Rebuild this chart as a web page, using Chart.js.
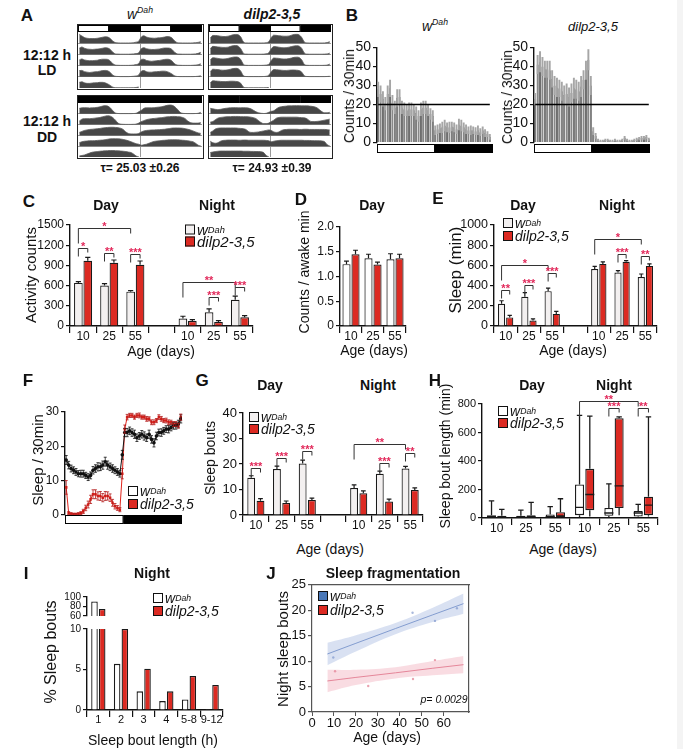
<!DOCTYPE html>
<html><head><meta charset="utf-8">
<script src="https://cdn.jsdelivr.net/npm/chart.js@4.4.1/dist/chart.umd.min.js"></script>
<style>
html,body{margin:0;padding:0;background:#fff}
body{position:relative;width:683px;height:749px;overflow:hidden;font-family:'Liberation Sans',Arial,Helvetica,sans-serif;color:#111}
.t{position:absolute;white-space:nowrap;line-height:1}
.sq{display:inline-block;width:8px;height:8px;border:1.3px solid #111;margin-right:2px;flex:none}
.lg{position:absolute;display:flex;align-items:center;white-space:nowrap;line-height:1;font-style:italic;transform:translateY(-50%)}
sup{font-size:0.62em;vertical-align:super;line-height:0}
</style></head><body>
<div style="position:absolute;left:677px;top:0;width:6px;height:749px;background:#f4f4f4"></div>
<script>
// ================= DATA =================
const ldPhaseHours = 12;
const ldDay = [1, 0];              // light, dark (12 h each)
const actoLDbar = [1, 0, 1, 0];    // double-plotted LD
const actoDDbar = [0, 0, 0, 0];    // constant darkness

// Panel A: hourly activity profiles (fraction of row height), one array per day
const actoLD_wDah = [
 [0.85,0.7,0.55,0.48,0.45,0.45,0.45,0.48,0.52,0.58,0.62,0.6,0.45,0.2,0.06,0.03,0.02,0.02,0.02,0.02,0.03,0.05,0.1,0.2],
 [0.6,0.72,0.6,0.52,0.5,0.48,0.5,0.52,0.55,0.6,0.65,0.62,0.48,0.2,0.05,0.03,0.02,0.02,0.02,0.02,0.03,0.05,0.08,0.15],
 [0.55,0.65,0.55,0.5,0.48,0.48,0.5,0.52,0.58,0.62,0.62,0.6,0.45,0.18,0.05,0.03,0.02,0.02,0.02,0.02,0.03,0.05,0.1,0.2],
 [0.6,0.62,0.5,0.45,0.42,0.45,0.48,0.5,0.55,0.6,0.62,0.58,0.42,0.15,0.05,0.03,0.02,0.02,0.02,0.02,0.03,0.05,0.08,0.18],
 [0.55,0.6,0.5,0.45,0.45,0.48,0.5,0.52,0.55,0.55,0.5,0.4,0.25,0.08,0.03,0.02,0.02,0.02,0.02,0.02,0.02,0.03,0.05,0.1]
];
const actoLD_dilp = [
 [0.5,0.75,0.75,0.72,0.68,0.65,0.65,0.68,0.75,0.82,0.85,0.82,0.6,0.15,0.03,0.02,0.02,0.02,0.02,0.02,0.02,0.03,0.05,0.15],
 [0.55,0.78,0.76,0.72,0.7,0.68,0.68,0.7,0.78,0.85,0.86,0.8,0.55,0.12,0.03,0.02,0.02,0.02,0.02,0.02,0.02,0.03,0.06,0.15],
 [0.55,0.76,0.74,0.7,0.66,0.64,0.66,0.7,0.76,0.82,0.84,0.8,0.58,0.14,0.03,0.02,0.02,0.02,0.02,0.02,0.02,0.03,0.05,0.12],
 [0.5,0.74,0.72,0.7,0.66,0.64,0.65,0.68,0.74,0.8,0.82,0.78,0.55,0.12,0.03,0.02,0.02,0.02,0.02,0.02,0.02,0.03,0.05,0.15],
 [0.5,0.7,0.68,0.66,0.64,0.62,0.62,0.64,0.66,0.66,0.64,0.6,0.45,0.1,0.03,0.02,0.02,0.02,0.02,0.02,0.02,0.02,0.03,0.05]
];
const actoDD_wDah = [
 [0.55,0.6,0.62,0.6,0.58,0.6,0.62,0.65,0.7,0.78,0.82,0.78,0.6,0.3,0.08,0.03,0.02,0.02,0.02,0.02,0.02,0.03,0.05,0.2],
 [0.35,0.55,0.6,0.6,0.6,0.62,0.65,0.68,0.72,0.78,0.85,0.88,0.85,0.7,0.45,0.15,0.05,0.03,0.02,0.02,0.02,0.03,0.05,0.15],
 [0.3,0.4,0.5,0.55,0.6,0.62,0.65,0.68,0.7,0.75,0.78,0.8,0.82,0.82,0.8,0.78,0.72,0.6,0.35,0.2,0.15,0.15,0.15,0.2],
 [0.35,0.45,0.5,0.52,0.55,0.55,0.56,0.58,0.6,0.62,0.66,0.7,0.74,0.75,0.75,0.74,0.72,0.68,0.62,0.55,0.45,0.35,0.25,0.2],
 [0.1,0.15,0.2,0.3,0.4,0.48,0.52,0.55,0.58,0.6,0.62,0.64,0.65,0.65,0.64,0.62,0.6,0.58,0.55,0.5,0.45,0.3,0.1,0.03]
];
const actoDD_dilp = [
 [0.55,0.5,0.45,0.42,0.45,0.5,0.55,0.58,0.6,0.62,0.62,0.6,0.6,0.62,0.6,0.58,0.5,0.35,0.2,0.1,0.05,0.03,0.05,0.15],
 [0.25,0.3,0.5,0.65,0.72,0.75,0.78,0.8,0.8,0.82,0.82,0.82,0.8,0.8,0.8,0.78,0.75,0.7,0.6,0.4,0.2,0.1,0.1,0.15],
 [0.3,0.45,0.65,0.72,0.75,0.75,0.75,0.75,0.75,0.75,0.75,0.72,0.7,0.68,0.6,0.4,0.3,0.3,0.32,0.35,0.4,0.45,0.5,0.55],
 [0.5,0.35,0.3,0.35,0.5,0.58,0.6,0.62,0.62,0.62,0.62,0.6,0.6,0.62,0.62,0.6,0.6,0.6,0.6,0.6,0.6,0.6,0.58,0.55],
 [0.45,0.5,0.55,0.58,0.6,0.6,0.6,0.6,0.6,0.6,0.6,0.6,0.6,0.58,0.58,0.58,0.56,0.56,0.55,0.55,0.52,0.45,0.15,0.03]
];
const tauWDah = 'τ= 25.03 ±0.26';
const tauDilp = 'τ= 24.93 ±0.39';

// Panel B: counts / 30 min (48 bins: 24 light + 24 dark)
const bMean_wDah = [28,25.5,23,20.5,25.5,28.5,21,18.5,23.5,24,18.5,17.5,17,17.5,17.5,17,15.5,14,17.5,18.5,18.5,17,15,14,
                    6.5,7,7.5,8,9,8,8,8.5,8,7,9.5,9,8,7,6.5,6.5,6.5,6,6.5,5.5,6.5,5,4.5,3];
const bSem_wDah  = [4,4.5,4,3.5,4.5,4.5,4,3.5,4.5,4,3.5,3.5,3,3.5,3.5,3,3.5,3,3.5,3.5,3.5,3,3,3,
                    2.5,2.5,2.5,3,3,2.5,3,2.5,2.5,2.5,3,3,2.5,2.5,2,2.5,2,2,2.5,2,2,2,1.5,1.5];
const bMean_dilp = [23,41,42.5,40,38.5,38.5,38,33.5,30,29,28.5,27,25,25.5,24,26,28.5,28,27,29.5,33,38,43.5,30,
                    6,3.5,1.2,0.9,0.9,1.3,1.3,0.9,0.9,1.3,0.9,0.9,1.3,2.5,1.3,0.9,0.9,1.3,1.7,2.1,2.5,2.5,2.9,1.7];
const bSem_dilp  = [3,5,5.5,5,4.5,4.5,5,4.5,5,5,4.5,5,5,5.5,5,5,5.5,5,5,5.5,5,5,5.5,5,
                    2,1.5,0.8,0.6,0.6,0.7,0.7,0.6,0.6,0.7,0.6,0.6,0.7,1,0.7,0.6,0.6,0.7,0.8,0.9,1,1,1.1,0.8];
const bThreshold = 20;

// Panels C, D, E, G: age groups
const gapAges = ['10','25','55','','10','25','55'];
const dAges = ['10','25','55'];
const cDayW = [640,600,510],  cDayWErr = [18,30,15],  cDayD = [970,940,910], cDayDErr = [50,40,55];
const cNightW = [110,205,390], cNightWErr = [35,50,55], cNightD = [75,60,130], cNightDErr = [20,20,25];
// significance: [datasetA, indexA, datasetB, indexB, level, label]
const cSig = [[0,0,0,2,1450,'*'],[0,0,1,0,1160,'*'],[0,1,1,1,1090,'**'],[0,2,1,2,1070,'***'],
              [0,4,0,6,656,'**'],[0,5,1,5,432,'***'],[0,6,1,6,581,'***']];

const dW = [1.25,1.37,1.35], dWErr = [0.06,0.08,0.11], dD = [1.45,1.24,1.37], dDErr = [0.08,0.05,0.08];

const eDayW = [220,290,345], eDayWErr = [30,40,30], eDayD = [85,55,120], eDayDErr = [20,15,25];
const eNightW = [565,530,485], eNightWErr = [25,18,30], eNightD = [615,635,595], eNightDErr = [20,12,20];
const eSig = [[0,0,0,2,604,'*'],[0,0,1,0,360,'**'],[0,1,1,1,405,'***'],[0,2,1,2,527,'***'],
              [0,4,0,6,863,'*'],[0,5,1,5,714,'***'],[0,6,1,6,697,'**']];

// Panel F: sleep / 30 min (48 bins)
const fW = [16,14.5,13.5,13,12.5,12,12,12,11.5,11,11.5,13,13.5,14,14,14.5,15.5,14.5,14,13.5,13,12.5,12,17.5,
            24,24,24.5,24,23.5,22.5,23,23.5,23,22.5,23.5,22,21,23,24,24,24.5,25,25,25.5,26,26,26.5,28];
const fWErr = [1.3,1.1,1,1,1,0.9,1,1,0.9,1,1,1.1,1.1,1.2,1.1,1.2,1.3,1.2,1.1,1.1,1,1,1,1.3,
               1.2,1.2,1.1,1.1,1.2,1.1,1,1.1,1.2,1.1,1.2,1.1,1.2,1.1,1,1.1,1,1,1.1,1,1,1,1.1,1.2];
const fD = [8,0.5,0.3,0.2,0.2,0.3,0.5,1,2,3,4.5,6,6,5.5,5.5,5,5.5,5.5,5,3.5,2.5,2,1.5,12,
            25,28.5,29,29,28.5,29,29,28.5,28.5,28,28,27,27,27.5,28.5,28,27.5,27.5,27,27,26.5,26.5,26,28.5];
const fDErr = [2,0.4,0.3,0.2,0.2,0.3,0.4,0.6,0.8,1,1.2,1.3,1.3,1.2,1.3,1.2,1.3,1.2,1.1,1,0.8,0.7,0.6,1.5,
               1.2,0.8,0.6,0.6,0.6,0.6,0.7,0.6,0.6,0.7,0.6,0.7,0.7,0.6,0.7,0.7,0.6,0.7,0.7,0.6,0.7,0.7,0.7,0.9];

const gDayW = [14.6,18,20.2], gDayWErr = [0.8,1.2,1.3], gDayD = [5.6,4.7,5.9], gDayDErr = [0.8,0.8,0.7];
const gNightW = [10.6,16.2,18.2], gNightWErr = [1.2,1,0.9], gNightD = [8.5,5.3,9.8], gNightDErr = [1,0.9,0.8];
const gSig = [[0,0,1,0,18.4,'***'],[0,1,1,1,22.3,'***'],[0,2,1,2,25,'***'],
              [0,4,0,6,27.7,'**'],[0,5,1,5,20.5,'***'],[0,6,1,6,24.4,'**']];

// Panel H: box plots [min, q1, median, q3, max]
const hAges = ['10','25','55','10','25','55'];
const hBoxW = [[0,2,8,20,120],[0,2,8,15,55],[0,3,10,25,80],[5,20,75,235,720],[5,15,35,70,240],[5,10,35,50,95]];
const hBoxD = [[0,2,6,15,60],[0,2,8,20,110],[0,5,15,40,135],[10,55,165,345,715],[20,70,225,700,710],[10,20,90,150,710]];
const hSig = [[0,3,0,5,820,'**'],[0,4,1,4,770,'***'],[0,5,1,5,770,'**']];

// Panel I
const iBins = ['1','2','3','4','5-8','9-12'];
const iW = [90.6,5.7,2.3,1.1,1.3,0.1];
const iD = [75,10,5.1,2.3,4.2,3.1];

// Panel J
const jX = [7,20,38,55,69];
const jFitW = [11.4,13.5,16.4,19.1,21.3], jHiW = [13.6,15.1,17.5,20.5,23.3], jLoW = [9.2,11.9,15.3,17.7,19.3];
const jFitD = [6.1,6.8,7.7,8.6,9.3],      jHiD = [8.3,8.3,8.8,10.0,11.0],   jLoD = [3.9,5.3,6.6,7.2,7.6];
const jPtsW = [[9.7,10.7],[45.8,19.5],[56,17.9],[66,20.4]];
const jPtsD = [[10.5,8.0],[25.6,5.1],[46,6.5],[56,10.2]];
const jP = 'p= 0.0029';

// ================= STYLE / HELPERS =================
const STAR = '#e2285a', EDGE = '#1a1a1a', WFILL = '#f3f0f0', RFILL = '#dc2a22';
Chart.defaults.font.family = "'Liberation Sans', Arial, sans-serif";
Chart.defaults.color = '#111';
Chart.defaults.animation = false;
Chart.defaults.events = [];
Chart.defaults.plugins.legend.display = false;
Chart.defaults.plugins.tooltip.enabled = false;

const errPlugin = {id:'errbars', afterDatasetsDraw(chart){
  const ctx = chart.ctx;
  chart.data.datasets.forEach((ds,di)=>{
    if(!ds.err) return;
    const meta = chart.getDatasetMeta(di), ys = chart.scales[meta.yAxisID];
    ctx.save(); ctx.strokeStyle = ds.errColor || EDGE; ctx.lineWidth = ds.errWidth || 1.2;
    meta.data.forEach((el,i)=>{
      const raw = ds.data[i], e = ds.err[i];
      if(raw==null || e==null) return;
      const v = typeof raw==='object' ? raw.y : raw;
      const x = el.x, cw = ds.errCap!=null ? ds.errCap : el.width*0.3;
      const yHi = ys.getPixelForValue(v+e), yLo = ys.getPixelForValue(ds.errBoth ? v-e : v);
      ctx.beginPath(); ctx.moveTo(x,yLo); ctx.lineTo(x,yHi); ctx.moveTo(x-cw,yHi); ctx.lineTo(x+cw,yHi);
      if(ds.errBoth){ ctx.moveTo(x-cw,yLo); ctx.lineTo(x+cw,yLo); }
      ctx.stroke();
    });
    ctx.restore();
  });
}};
const boxPlugin = {id:'whiskers', afterDatasetsDraw(chart){
  const ctx = chart.ctx;
  chart.data.datasets.forEach((ds,di)=>{
    if(!ds.whisk) return;
    const meta = chart.getDatasetMeta(di), ys = chart.scales[meta.yAxisID];
    const p = v => ys.getPixelForValue(v);
    ctx.save(); ctx.strokeStyle = EDGE; ctx.lineWidth = 1.3;
    meta.data.forEach((el,i)=>{
      const [mn,q1,md,q3,mx] = ds.whisk[i]; const x = el.x, hw = el.width/2, cw = el.width*0.3;
      ctx.beginPath();
      ctx.moveTo(x,p(q3)); ctx.lineTo(x,p(mx)); ctx.moveTo(x-cw,p(mx)); ctx.lineTo(x+cw,p(mx));
      ctx.moveTo(x,p(q1)); ctx.lineTo(x,p(mn));
      ctx.moveTo(x-hw,p(md)); ctx.lineTo(x+hw,p(md));
      ctx.stroke();
    });
    ctx.restore();
  });
}};
const sigPlugin = {id:'sig', afterDatasetsDraw(chart){
  const ds0 = chart.data.datasets[0]; if(!ds0 || !ds0.sig) return;
  const ctx = chart.ctx, ys = chart.scales.y;
  ctx.save();
  ds0.sig.forEach(([d1,i1,d2,i2,lvl,lab])=>{
    const x1 = chart.getDatasetMeta(d1).data[i1].x, x2 = chart.getDatasetMeta(d2).data[i2].x;
    const y = Math.round(ys.getPixelForValue(lvl))+0.5;
    const small = i1===i2, l1 = small?8:15, l2 = small?4:5;
    ctx.strokeStyle = '#333'; ctx.lineWidth = 1;
    ctx.beginPath(); ctx.moveTo(x1,y+l1); ctx.lineTo(x1,y); ctx.lineTo(x2,y); ctx.lineTo(x2,y+l2); ctx.stroke();
    ctx.fillStyle = STAR; ctx.font = "bold 11px 'Liberation Sans', Arial"; ctx.textAlign = 'center'; ctx.textBaseline = 'alphabetic';
    ctx.fillText(lab,(x1+x2)/2,y+1);
  });
  ctx.restore();
}};
Chart.register(errPlugin, boxPlugin, sigPlugin);

function place(x,y,w,h,parent){
  const wrap = document.createElement('div');
  wrap.style.cssText = `position:absolute;left:${x}px;top:${y}px;width:${w}px;height:${h}px`;
  const cv = document.createElement('canvas'); cv.width = w; cv.height = h;
  cv.style.width = w+'px'; cv.style.height = h+'px';
  wrap.appendChild(cv); (parent||document.body).appendChild(wrap); return cv;
}
function plotChart(P,pad,cfg){
  const x = P[0]-pad.l, y = P[1]-pad.t, w = P[2]-P[0]+pad.l+pad.r, h = P[3]-P[1]+pad.t+pad.b;
  const cv = place(x,y,w,h);
  const o = cfg.options = Object.assign({responsive:false, maintainAspectRatio:false, animation:false}, cfg.options||{});
  o.layout = {padding:{left:0, top:pad.t, right:pad.r, bottom:0}};
  for(const [id,s] of Object.entries(o.scales)){
    const isX = id[0]==='x';
    if(s.display===false){ if(isX) o.layout.padding.bottom = pad.b; continue; }
    const size = isX ? (s.position==='top'?0:pad.b) : (s.position==='right'?0:pad.l);
    s.afterFit = sc => { if(isX) sc.height = size; else sc.width = size; };
  }
  return new Chart(cv,cfg);
}
function yAx(min,max,step,size,fmt){
  return {type:'linear',position:'left',min,max,
    ticks:{stepSize:step,font:{size},color:'#111',padding:2,autoSkip:false,maxTicksLimit:50, callback: fmt || (v=>String(v))},
    grid:{drawOnChartArea:false,tickLength:4,color:'#111',lineWidth:1.2},
    border:{color:'#111',width:1.4}};
}
function xCat(labels,size){
  return {type:'category',labels,offset:true,
    ticks:{font:{size},color:'#111',maxRotation:0,minRotation:0,autoSkip:false,padding:-4},
    grid:{offset:true,drawOnChartArea:false,tickLength:7,color:'#111',lineWidth:1.2},
    border:{color:'#111',width:1.4}};
}
const gap = (a,b)=>[...a,null,...b];
function barDS(data,err,fill,cp,bp,extra){
  return Object.assign({data,err,backgroundColor:fill,borderColor:EDGE,borderWidth:1.2,categoryPercentage:cp,barPercentage:bp},extra||{});
}
function ldBar(parent,x,y,w,h,light){
  const cv = place(x,y,w,h,parent);
  new Chart(cv,{type:'bar',data:{labels:[''],datasets:light.map(f=>({data:[ldPhaseHours],backgroundColor:f?'#fff':'#000',borderColor:'#000',borderWidth:1.3,borderSkipped:false,barPercentage:1,categoryPercentage:1}))},
    options:{indexAxis:'y',responsive:false,animation:false,layout:{padding:0},
      scales:{x:{stacked:true,display:false,min:0,max:ldPhaseHours*light.length},y:{stacked:true,display:false}}}});
}
function actogram(L,T,R,B,days,light){
  const box = document.createElement('div');
  box.style.cssText = `position:absolute;left:${L}px;top:${T}px;width:${R-L}px;height:${B-T}px;border:1.5px solid #222;box-sizing:border-box;background:#fff`;
  document.body.appendChild(box);
  const iw = R-L-3, ih = B-T-3, barH = 7;
  ldBar(box,0,0,iw,barH,light);
  const cv = place(0,barH,iw,ih-barH,box);
  const rows = days.length;
  const datasets = days.map((d,r)=>{
    const seq = r+1<rows ? d.concat(days[r+1]) : d;
    const base = rows-1-r;
    return {data:seq.map((v,k)=>({x:k+0.5,y:base+v*0.92})),fill:{value:base},backgroundColor:'#474747',
      borderColor:'#5c5c5c',borderWidth:0.8,pointRadius:0,cubicInterpolationMode:'monotone'};
  });
  new Chart(cv,{type:'line',data:{datasets},options:{responsive:false,animation:false,layout:{padding:0},
    scales:{
      x:{type:'linear',min:0,max:48,ticks:{display:false},grid:{color:'#9a9a9a',drawTicks:false,lineWidth:1},border:{display:false},
         afterBuildTicks:s=>{s.ticks=[{value:24}];}},
      y:{type:'linear',min:0,max:rows,ticks:{display:false},grid:{color:'#9a9a9a',drawTicks:false,lineWidth:1},border:{display:false},
         afterBuildTicks:s=>{s.ticks=days.slice(1).map((_,i)=>({value:i+1}));}}
    }}});
}
function T(html,x,y,size,o){
  o = o||{};
  const d = document.createElement('div'); d.className = 't'; d.innerHTML = html;
  d.style.left = x+'px'; d.style.top = y+'px'; d.style.fontSize = size+'px';
  if(o.b) d.style.fontWeight = 'bold'; if(o.i) d.style.fontStyle = 'italic';
  d.style.transform = 'translate(-50%,-50%)'+(o.r?' rotate(-90deg)':'');
  document.body.appendChild(d);
}
const W_LAB = 'w<sup>Dah</sup>', D_LAB = 'dilp2-3,5';
function LG(x,y,size,gapY,items){
  items.forEach((it,k)=>{
    const d = document.createElement('div'); d.className = 'lg';
    d.style.left = x+'px'; d.style.top = (y+k*gapY)+'px'; d.style.fontSize = size+'px';
    d.innerHTML = `<span class="sq" style="background:${it[0]}"></span>${it[1]}`;
    document.body.appendChild(d);
  });
}
const LEG2 = [[WFILL,W_LAB],[RFILL,D_LAB]];

// ================= PANEL A =================
actogram(77,24,204,90,actoLD_wDah,actoLDbar);
actogram(208,24,333,90,actoLD_dilp,actoLDbar);
actogram(77,95,204,159,actoDD_wDah,actoDDbar);
actogram(208,95,333,159,actoDD_dilp,actoDDbar);

// ================= PANEL B =================
function bChart(P,mean,sem){
  const labels = mean.map((_,i)=>String(i));
  return plotChart(P,{l:30,t:10,r:2,b:9},{type:'bar',data:{labels,datasets:[
    {type:'line',xAxisID:'xl',data:[{x:0,y:bThreshold},{x:labels.length-1,y:bThreshold}],borderColor:'#000',borderWidth:1.5,pointRadius:0},
    {data:mean.map((m,i)=>[m-sem[i],m+sem[i]]),backgroundColor:'#a6a6a6',borderWidth:0,grouped:false,categoryPercentage:1,barPercentage:0.8},
    {data:mean,backgroundColor:'#747474',borderColor:'#000',borderWidth:0.6,grouped:false,categoryPercentage:1,barPercentage:0.8}
  ]},options:{scales:{x:{type:'category',display:false,offset:true},
    xl:{type:'linear',display:false,offset:false,grid:{offset:false},min:-0.5,max:labels.length-0.5},y:yAx(0,50,10,14)}}});
}
bChart([377,47,491,144],bMean_wDah,bSem_wDah);
bChart([534,47,650,144],bMean_dilp,bSem_dilp);
ldBar(null,377,144,116,9,ldDay);
ldBar(null,534,144,116,9,ldDay);

// ================= PANEL C =================
plotChart([70,225,253,326],{l:44,t:14,r:4,b:18},{type:'bar',data:{labels:gapAges,datasets:[
  barDS(gap(cDayW,cNightW),gap(cDayWErr,cNightWErr),WFILL,0.72,0.92,{sig:cSig}),
  barDS(gap(cDayD,cNightD),gap(cDayDErr,cNightDErr),RFILL,0.72,0.92)]},
  options:{scales:{x:xCat(gapAges,12),y:yAx(0,1500,300,12)}}});

// ================= PANEL D =================
plotChart([340,227,406,326],{l:30,t:10,r:4,b:18},{type:'bar',data:{labels:dAges,datasets:[
  barDS(dW,dWErr,'#fff',0.82,0.9),barDS(dD,dDErr,RFILL,0.82,0.9)]},
  options:{scales:{x:xCat(dAges,12),y:yAx(0,2,0.5,12,v=>v===0?'0':v.toFixed(1))}}});

// ================= PANEL E =================
plotChart([494,225,657,326],{l:38,t:12,r:4,b:18},{type:'bar',data:{labels:gapAges,datasets:[
  barDS(gap(eDayW,eNightW),gap(eDayWErr,eNightWErr),WFILL,0.7,0.88,{sig:eSig}),
  barDS(gap(eDayD,eNightD),gap(eDayDErr,eNightDErr),RFILL,0.7,0.88)]},
  options:{scales:{x:xCat(gapAges,12),y:yAx(0,1000,200,12.5)}}});

// ================= PANEL F =================
plotChart([65,412,182,515],{l:24,t:10,r:4,b:9},{type:'line',data:{datasets:[
  {data:fW.map((v,k)=>({x:k+0.5,y:v})),err:fWErr,errBoth:true,errCap:1.5,errColor:'#111',errWidth:0.8,
   borderColor:'#111',borderWidth:1,pointRadius:1.8,pointBackgroundColor:'#111',pointBorderWidth:0},
  {data:fD.map((v,k)=>({x:k+0.5,y:v})),err:fDErr,errBoth:true,errCap:1.5,errColor:'#b31a1a',errWidth:0.8,
   borderColor:'#e0241c',borderWidth:1,pointStyle:'rect',pointRadius:1.8,pointBackgroundColor:'#e0241c',pointBorderWidth:0}
]},options:{scales:{x:{type:'linear',display:false,min:0,max:48},y:yAx(0,30,10,12)}}});
ldBar(null,65,515,117,9,ldDay);

// ================= PANEL G =================
plotChart([243,413,423,515],{l:26,t:10,r:4,b:18},{type:'bar',data:{labels:gapAges,datasets:[
  barDS(gap(gDayW,gNightW),gap(gDayWErr,gNightWErr),WFILL,0.72,0.85,{sig:gSig}),
  barDS(gap(gDayD,gNightD),gap(gDayDErr,gNightDErr),RFILL,0.72,0.85)]},
  options:{scales:{x:xCat(gapAges,12),y:yAx(0,40,10,13)}}});

// ================= PANEL H =================
plotChart([482,404,658,518],{l:30,t:14,r:4,b:18},{type:'bar',data:{labels:hAges,datasets:[
  {data:hBoxW.map(b=>[b[1],b[3]]),whisk:hBoxW,sig:hSig,backgroundColor:'#fff',borderColor:EDGE,borderWidth:1.3,borderSkipped:false,categoryPercentage:0.7,barPercentage:0.88},
  {data:hBoxD.map(b=>[b[1],b[3]]),whisk:hBoxD,backgroundColor:RFILL,borderColor:EDGE,borderWidth:1.3,borderSkipped:false,categoryPercentage:0.7,barPercentage:0.88}]},
  options:{scales:{x:xCat(hAges,12),y:yAx(0,800,200,11)}}});

// ================= PANEL I =================
plotChart([87,597,223,617],{l:26,t:8,r:4,b:7},{type:'bar',data:{labels:iBins,datasets:[
  {data:iW.map(v=>v>=60?v:null),backgroundColor:'#fff',borderColor:EDGE,borderWidth:1.3,categoryPercentage:0.68,barPercentage:0.85},
  {data:iD.map(v=>v>=60?v:null),backgroundColor:RFILL,borderColor:EDGE,borderWidth:1.3,categoryPercentage:0.68,barPercentage:0.85}]},
  options:{scales:{x:{type:'category',display:false,offset:true},y:yAx(60,100,20,10)}}});
plotChart([87,628,223,710],{l:26,t:7,r:4,b:18},{type:'bar',data:{labels:iBins,datasets:[
  {data:iW,clip:0,backgroundColor:'#fff',borderColor:EDGE,borderWidth:1.3,categoryPercentage:0.68,barPercentage:0.85},
  {data:iD,clip:0,backgroundColor:RFILL,borderColor:EDGE,borderWidth:1.3,categoryPercentage:0.68,barPercentage:0.85}]},
  options:{scales:{x:xCat(iBins,11),y:yAx(0,10,5,10)}}});

// ================= PANEL J =================
const jy = yAx(0,25,5,13); jy.grid.color = '#555'; jy.border.color = '#555'; jy.border.width = 1.2;
plotChart([312,583,469,712],{l:24,t:8,r:4,b:18},{type:'line',data:{datasets:[
  {data:jX.map((x,i)=>({x,y:jLoW[i]})),borderWidth:0,pointRadius:0,tension:0.4,fill:false},
  {data:jX.map((x,i)=>({x,y:jHiW[i]})),borderWidth:0,pointRadius:0,tension:0.4,fill:'-1',backgroundColor:'rgba(120,148,210,0.28)'},
  {data:jX.map((x,i)=>({x,y:jFitW[i]})),borderColor:'#7b95c9',borderWidth:0.9,pointRadius:0},
  {data:jPtsW.map(([x,y])=>({x,y})),showLine:false,pointRadius:1.2,pointBackgroundColor:'#a8b8dc',pointBorderWidth:0},
  {data:jX.map((x,i)=>({x,y:jLoD[i]})),borderWidth:0,pointRadius:0,tension:0.4,fill:false},
  {data:jX.map((x,i)=>({x,y:jHiD[i]})),borderWidth:0,pointRadius:0,tension:0.4,fill:'-1',backgroundColor:'rgba(235,130,150,0.28)'},
  {data:jX.map((x,i)=>({x,y:jFitD[i]})),borderColor:'#e07a8e',borderWidth:0.9,pointRadius:0},
  {data:jPtsD.map(([x,y])=>({x,y})),showLine:false,pointRadius:1.2,pointBackgroundColor:'#eaa3b0',pointBorderWidth:0}
]},options:{scales:{
  x:{type:'linear',min:0,max:71.5,ticks:{stepSize:10,font:{size:13},color:'#111',padding:0,maxRotation:0},
     afterBuildTicks:s=>{s.ticks=s.ticks.filter(t=>t.value%10===0);},
     grid:{drawOnChartArea:false,tickLength:4,color:'#555'},border:{color:'#555',width:1.2}},
  y:jy,
  x2:{type:'linear',position:'top',min:0,max:71.5,ticks:{display:false},grid:{drawOnChartArea:false,drawTicks:false},border:{color:'#555',width:1.2}},
  y2:{type:'linear',position:'right',min:0,max:25,ticks:{display:false},grid:{drawOnChartArea:false,drawTicks:false},border:{color:'#555',width:1.2}}
}}});

// ================= TEXT =================
// A
T('A',27,15,17,{b:1});
T('<i>w<sup>Dah</sup></i>',140,14,14);
T('<b><i>dilp2-3,5</i></b>',272,14,14);
T('12:12 h',47,55,14,{b:1}); T('LD',47,70,14,{b:1});
T('12:12 h',47,121,14,{b:1}); T('DD',47,137,14,{b:1});
T(tauWDah,140,168,12,{b:1}); T(tauDilp,272,168,12,{b:1});
// B
T('B',352,15,17,{b:1});
T('<i>w<sup>Dah</sup></i>',435,26,14);
T('<i>dilp2-3,5</i>',593,26,13);
T('Counts / 30min',349,96,14,{r:1});
T('Counts / 30min',507,97,14,{r:1});
// C
T('C',29,201,17,{b:1});
T('Day',106,205,14,{b:1}); T('Night',217,205,14,{b:1});
LG(185,229,15,12,LEG2);
T('Activity counts',30,275,15,{r:1});
T('Age (days)',161,351,14);
// D
T('D',301,199,17,{b:1});
T('Day',372,205,14,{b:1});
T('Counts / awake min',304,272,14,{r:1});
T('Age (days)',374,350,14);
// E
T('E',438,198,17,{b:1});
T('Day',523,205,14,{b:1}); T('Night',617,205,14,{b:1});
LG(503,223,14,13,LEG2);
T('Sleep (min)',455,270,17,{r:1});
T('Age (days)',573,350,14);
// F
T('F',28,380,17,{b:1});
T('Sleep / 30min',37,460,15,{r:1});
LG(128,491,14,13,[['#fff',W_LAB],[RFILL,D_LAB]]);
// G
T('G',202,380,17,{b:1});
T('Day',270,385,14,{b:1}); T('Night',378,385,14,{b:1});
LG(249,417,14,12,LEG2);
T('Sleep bouts',210,458,14,{r:1});
T('Age (days)',330,549,14);
// H
T('H',435,380,17,{b:1});
T('Day',532,385,14,{b:1}); T('Night',614,385,14,{b:1});
LG(498,411,14,12,[['#fff',W_LAB],[RFILL,D_LAB]]);
T('Sleep bout length (min)',445,456,14,{r:1});
T('Age (days)',563,549,14);
// I
T('I',26,573,17,{b:1});
T('Night',152,573,14,{b:1});
LG(153,598,14,13,[['#fff',W_LAB],[RFILL,D_LAB]]);
T('% Sleep bouts',51,652,16,{r:1});
T('Sleep bout length (h)',153,740,14);
// J
T('J',271,573,17,{b:1});
T('Sleep fragmentation',393,573,14,{b:1});
LG(318,596,14,14,[['#4a78b8',W_LAB],[RFILL,D_LAB]]);
T(jP,444,699,10.5,{i:1});
T('Night sleep bouts',282,649,15,{r:1});
T('Age (days)',387,737,14);
</script>
</body></html>
